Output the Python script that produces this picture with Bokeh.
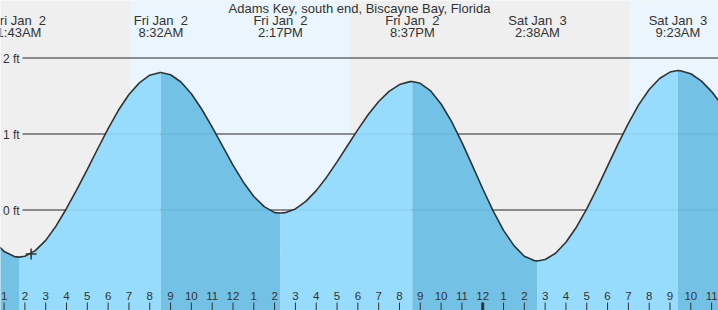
from bokeh.plotting import figure
from bokeh.models import Range1d
from bokeh.core.properties import value
from bokeh.embed import file_html
from bokeh.resources import INLINE

# ---------------- data ----------------
title_text = "Adams Key, south end, Biscayne Bay, Florida"

# tide extremes: hours since Fri Jan 2 00:00, height in feet
extreme_hours = [1.717, 8.533, 14.283, 20.617, 26.633, 33.383]
extreme_heights = [-0.62, 1.81, -0.04, 1.69, -0.67, 1.835]
extreme_kinds = ["low", "high", "low", "high", "low", "high"]
extreme_dates = ["Fri Jan \u00a02", "Fri Jan \u00a02", "Fri Jan \u00a02", "Fri Jan \u00a02",
                 "Sat Jan \u00a03", "Sat Jan \u00a03"]
extreme_times = ["1:43AM", "8:32AM", "2:17PM", "8:37PM", "2:38AM", "9:23AM"]

# tide curve read every half hour
reading_hours = [0.5, 1.0, 1.5, 2.0, 2.5, 3.0, 3.5, 4.0, 4.5, 5.0, 5.5, 6.0, 6.5, 7.0, 7.5, 8.0, 8.5,
                 9.0, 9.5, 10.0, 10.5, 11.0, 11.5, 12.0, 12.5, 13.0, 13.5, 14.0, 14.5, 15.0, 15.5,
                 16.0, 16.5, 17.0, 17.5, 18.0, 18.5, 19.0, 19.5, 20.0, 20.5, 21.0, 21.5, 22.0, 22.5,
                 23.0, 23.5, 24.0, 24.5, 25.0, 25.5, 26.0, 26.5, 27.0, 27.5, 28.0, 28.5, 29.0, 29.5,
                 30.0, 30.5, 31.0, 31.5, 32.0, 32.5, 33.0, 33.5, 34.0, 34.5, 35.0, 35.5]
reading_heights = [-0.406, -0.545, -0.613, -0.608, -0.535, -0.400, -0.210, 0.020, 0.270, 0.535,
                   0.806, 1.072, 1.315, 1.519, 1.673, 1.774, 1.810,
                   1.780, 1.684, 1.529, 1.326, 1.090, 0.839, 0.591, 0.366, 0.178, 0.045, -0.034,
                   -0.035, 0.014, 0.113, 0.255, 0.432, 0.633, 0.846, 1.058, 1.256, 1.427, 1.561,
                   1.650, 1.689, 1.667, 1.567, 1.395, 1.165, 0.889, 0.587, 0.280, -0.011, -0.268,
                   -0.469, -0.609, -0.667, -0.652, -0.569, -0.425, -0.226, 0.016, 0.289, 0.578,
                   0.867, 1.141, 1.386, 1.585, 1.730, 1.815, 1.833, 1.793, 1.699, 1.558, 1.379]

# daylight periods (hours since Fri Jan 2 00:00)
day_starts = [7.07, 31.04]
day_ends = [17.65, 41.6]

# y gridlines
grid_values = [2, 1, 0]
grid_labels = ["2 ft", "1 ft", "0 ft"]

# hour ticks
tick_hours = list(range(1, 36))
tick_labels = ["1", "2", "3", "4", "5", "6", "7", "8", "9", "10", "11", "12",
               "1", "2", "3", "4", "5", "6", "7", "8", "9", "10", "11", "12",
               "1", "2", "3", "4", "5", "6", "7", "8", "9", "10", "11"]
midnight_hours = [24]

# current time marker
now_hour = 2.3
now_height = -0.58

# ---------------- layout ----------------
W, H = 718, 310
PX_PER_HOUR = 20.81
X_START = 0.828
PX_PER_FT = 76.0
Y_TOP = 2 + 57.5 / PX_PER_FT
X_END = X_START + W / PX_PER_HOUR
Y_BOTTOM = Y_TOP - H / PX_PER_FT
SHIFT = 4.0  # baseline correction in px


def xh(px):
    return X_START + px / PX_PER_HOUR


def yv(py):
    return Y_TOP - (py - SHIFT) / PX_PER_FT


def yv_raw(py):
    return Y_TOP - py / PX_PER_FT


TEXT = "#333333"
FONT = value("Liberation Sans")
NIGHT = "#efefef"
DAY = "#ebf5fd"
RISE = "#97dcfc"
FALL = "#73c1e4"

p = figure(width=W, height=H, x_range=Range1d(X_START, X_END), y_range=Range1d(Y_BOTTOM, Y_TOP),
           output_backend="svg", toolbar_location=None, min_border=0,
           x_axis_type=None, y_axis_type=None,
           background_fill_color=NIGHT, border_fill_color=NIGHT, outline_line_color=None)
p.grid.visible = False

# day shading
p.quad(left=day_starts, right=day_ends, bottom=Y_BOTTOM, top=Y_TOP,
       fill_color=DAY, line_color=None)

# grid lines (under fill)
gx0 = xh(22)
p.segment(x0=[gx0] * len(grid_values), x1=[X_END] * len(grid_values),
          y0=grid_values, y1=grid_values, line_color=TEXT, line_width=1)

# combined curve points
pts = sorted(list(zip(reading_hours, reading_heights)) + list(zip(extreme_hours, extreme_heights)))
curve_x = [t for t, v in pts]
curve_y = [v for t, v in pts]

# fill segments between extremes
bounds = [curve_x[0]] + extreme_hours + [curve_x[-1]]
for i in range(len(bounds) - 1):
    a, b = bounds[i], bounds[i + 1]
    seg = [(t, v) for t, v in pts if a <= t <= b]
    if i < len(extreme_kinds):
        rising = extreme_kinds[i] == "high"
    else:
        rising = extreme_kinds[-1] == "low"
    p.varea(x=[t for t, v in seg], y1=Y_BOTTOM, y2=[v for t, v in seg],
            fill_color=RISE if rising else FALL)

# grid lines faint over fill
p.segment(x0=[gx0] * len(grid_values), x1=[X_END] * len(grid_values),
          y0=grid_values, y1=grid_values, line_color="#000000", line_alpha=0.07, line_width=1)

# tide curve
p.line(curve_x, curve_y, line_color=TEXT, line_width=1.6)

# current time marker
p.scatter([now_hour], [now_height], marker="cross", size=11, line_color=TEXT, line_width=1.5)

# y labels
p.text(x=[xh(2.5)] * len(grid_values), y=[v + (SHIFT - 4.5) / PX_PER_FT for v in grid_values],
       text=grid_labels, text_font=FONT, text_font_size="12px", text_color=TEXT,
       text_align="left", text_baseline="alphabetic")

# title
p.text(x=[xh(W / 2)], y=[yv(11.5)], text=[title_text], text_font=FONT, text_font_size="13px",
       text_color=TEXT, text_align="center", text_baseline="alphabetic")

# extreme labels
p.text(x=extreme_hours, y=[yv(24.2)] * len(extreme_hours), text=extreme_dates, text_font=FONT,
       text_font_size="13px", text_color=TEXT, text_align="center", text_baseline="alphabetic")
p.text(x=extreme_hours, y=[yv(36.3)] * len(extreme_hours), text=extreme_times, text_font=FONT,
       text_font_size="13px", text_color=TEXT, text_align="center", text_baseline="alphabetic")

# hour ticks and labels
p.segment(x0=tick_hours, x1=tick_hours, y0=[yv_raw(302)] * len(tick_hours), y1=[Y_BOTTOM] * len(tick_hours),
          line_color=TEXT, line_width=1)
p.segment(x0=midnight_hours, x1=midnight_hours, y0=[yv_raw(302)], y1=[Y_BOTTOM],
          line_color=TEXT, line_width=3)
p.text(x=tick_hours, y=[yv(299.3)] * len(tick_hours), text=tick_labels, text_font=FONT,
       text_font_size="11.5px", text_color=TEXT, text_align="center", text_baseline="alphabetic")

open("out.html", "w").write(file_html(p, INLINE))
